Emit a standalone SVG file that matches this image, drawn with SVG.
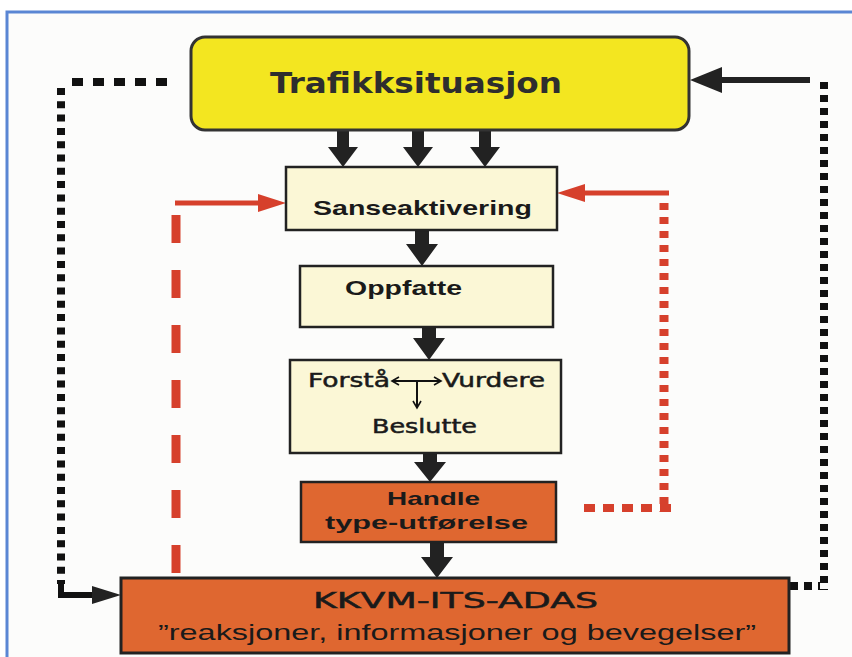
<svg xmlns="http://www.w3.org/2000/svg" width="852" height="657" viewBox="0 0 852 657">
<style>
.box{stroke:#222;stroke-width:2.5}
.cream{fill:#fbf7d6}
.orange{fill:#df6730}
.blk{fill:#222}
.arial{font-family:"Liberation Sans",Arial,sans-serif;font-weight:bold;fill:#1a1a1a}
.comic{font-family:"DejaVu Sans","Noto Sans",sans-serif;fill:#1a1a1a;stroke:#1a1a1a;stroke-width:0.5}
.red{stroke:#d6402c;fill:none}
.dots{stroke:#111;fill:none}
.thin{fill:none;stroke:#111;stroke-width:2}
</style>
<defs>
<marker id="thin" markerWidth="10" markerHeight="10" refX="8" refY="5" orient="auto" markerUnits="userSpaceOnUse">
<path d="M1,1 L8,5 L1,9" fill="none" stroke="#111" stroke-width="1.6"/>
</marker>
</defs>
<rect x="0" y="0" width="852" height="657" fill="#ffffff"/>
<rect x="7" y="12" width="900" height="700" fill="#fcfcfb" stroke="#5a86d4" stroke-width="3"/>

<g id="connectors">
  <!-- block arrows -->
  <path class="blk" d="M337,130 L349,130 L349,147 L358,147 L343,167 L328,147 L337,147 Z"/>
  <path class="blk" d="M412,130 L424,130 L424,147 L433,147 L418,167 L403,147 L412,147 Z"/>
  <path class="blk" d="M479,130 L491,130 L491,147 L500,147 L485,167 L470,147 L479,147 Z"/>
  <path class="blk" d="M415,230 L429,230 L429,244 L438,244 L422,266 L406,244 L415,244 Z"/>
  <path class="blk" d="M422,327 L436,327 L436,338 L445,338 L429,360 L413,338 L422,338 Z"/>
  <path class="blk" d="M423,453 L437,453 L437,462 L446,462 L430,482 L414,462 L423,462 Z"/>
  <path class="blk" d="M430,542 L444,542 L444,557 L453,557 L437,578 L421,557 L430,557 Z"/>
  <!-- top right solid arrow -->
  <path class="blk" d="M810,77 L722,77 L722,67 L690,80 L722,93 L722,83 L810,83 Z"/>
  <!-- left black dotted loop -->
  <path class="dots" d="M72,82 L167,82" stroke-width="8" stroke-dasharray="11 10"/>
  <path class="dots" d="M61,88 L61,584" stroke-width="8" stroke-dasharray="7 6.3"/>
  <path d="M61,584 L61,595 L95,595" fill="none" stroke="#111" stroke-width="6"/>
  <path class="blk" d="M92,586 L121,595 L92,604 Z"/>
  <!-- right black dotted loop -->
  <path class="dots" d="M824,82 L824,590" stroke-width="8" stroke-dasharray="7 6"/>
  <path class="dots" d="M790,586 L820,586" stroke-width="8" stroke-dasharray="8 6"/>
  <!-- red left dashed -->
  <path class="red" d="M175,203 L262,203" stroke-width="5"/>
  <path d="M258,194 L286,203 L258,212 Z" fill="#d6402c"/>
  <path class="red" d="M176,215 L176,573" stroke-width="9" stroke-dasharray="28 27"/>
  <!-- red right dotted -->
  <path class="red" d="M669,193 L582,193" stroke-width="5"/>
  <path d="M585,184 L557,193 L585,202 Z" fill="#d6402c"/>
  <path class="red" d="M664,203 L664,512" stroke-width="9" stroke-dasharray="7 7"/>
  <path class="red" d="M671,508 L580,508" stroke-width="8" stroke-dasharray="11 8"/>
</g>

<g id="trafikksituasjon">
  <rect x="191" y="37" width="498" height="93" rx="14" fill="#f3e620" stroke="#333" stroke-width="3"/>
  <text class="comic" x="270" y="93" font-size="29" font-weight="bold" style="fill:#2e2e2e;stroke:none" textLength="292" lengthAdjust="spacingAndGlyphs">Trafikksituasjon</text>
</g>

<g id="sanseaktivering">
  <rect class="box cream" x="286" y="167" width="271" height="63"/>
  <text class="arial" x="313" y="215" font-size="21" textLength="219" lengthAdjust="spacingAndGlyphs">Sanseaktivering</text>
</g>

<g id="oppfatte">
  <rect class="box cream" x="300" y="266" width="253" height="61"/>
  <text class="arial" x="345" y="295" font-size="21" textLength="117" lengthAdjust="spacingAndGlyphs">Oppfatte</text>
</g>

<g id="forsta">
  <rect class="box cream" x="290" y="360" width="271" height="93"/>
  <text class="comic" x="308" y="387" font-size="19" textLength="82" lengthAdjust="spacingAndGlyphs">Forstå</text>
  <text class="comic" x="442" y="387" font-size="19" textLength="103" lengthAdjust="spacingAndGlyphs">Vurdere</text>
  <text class="comic" x="372" y="433" font-size="19" textLength="105" lengthAdjust="spacingAndGlyphs">Beslutte</text>
  <path class="thin" d="M416,381 L392,381" marker-end="url(#thin)"/>
  <path class="thin" d="M416,381 L441,381" marker-end="url(#thin)"/>
  <path class="thin" d="M417,381 L417,408" marker-end="url(#thin)"/>
</g>

<g id="handle">
  <rect class="box orange" x="301" y="482" width="255" height="60"/>
  <text class="arial" x="387" y="505" font-size="19" textLength="93" lengthAdjust="spacingAndGlyphs">Handle</text>
  <text class="arial" x="325" y="529" font-size="19" textLength="203" lengthAdjust="spacingAndGlyphs">type-utførelse</text>
</g>

<g id="kkvm">
  <rect class="orange" x="121" y="578" width="668" height="75" stroke="#222" stroke-width="3"/>
  <text class="comic" x="313" y="608" font-size="21" textLength="285" lengthAdjust="spacingAndGlyphs">KKVM-ITS-ADAS</text>
  <text x="158" y="640" font-family="Liberation Sans, Arial, sans-serif" font-size="22" fill="#1a1a1a" textLength="598" lengthAdjust="spacingAndGlyphs">”reaksjoner, informasjoner  og bevegelser”</text>
</g>
</svg>
